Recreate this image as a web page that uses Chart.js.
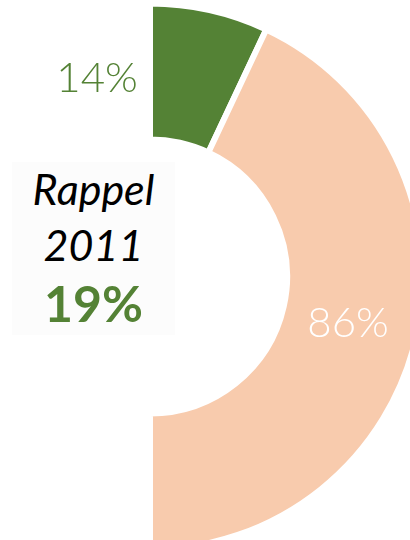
<!DOCTYPE html>
<html>
<head>
<meta charset="utf-8">
<script src="https://cdn.jsdelivr.net/npm/chart.js@4.4.1/dist/chart.umd.min.js"></script>
<style>
  html, body { margin: 0; padding: 0; background: #fff; }
  #wrap { position: relative; width: 410px; height: 540px; overflow: hidden; }
  #chart { position: absolute; left: 0; top: 0; }
  #note {
    position: absolute; left: 12px; top: 162px; width: 163px; height: 173px;
    background: #fcfcfc; text-align: center; font-family: Lato, "Open Sans", sans-serif;
  }
  #note .l1, #note .l2 { font-style: italic; font-size: 43px; color: #000; line-height: 1; }
  #note .l1 { margin-top: 5px; }
  #note .l2 { margin-top: 13px; }
  #note .l3 { font-weight: bold; font-size: 50px; color: #548235; margin-top: 12px; line-height: 1; }
</style>
</head>
<body>
<div id="wrap">
  <canvas id="chart" width="410" height="540"></canvas>
  <div id="note">
    <div class="l1">Rappel</div>
    <div class="l2">2011</div>
    <div class="l3">19%</div>
  </div>
</div>
<script>
// values
const categories = ['Oui', 'Non'];
const shares = [14, 86];
const colours = ['#548235', '#F8CBAD'];
const labelColours = ['#548235', '#ffffff'];

// draw the percent labels from the arcs themselves
const pctLabels = {
  id: 'pctLabels',
  afterDatasetsDraw(chart) {
    const ctx = chart.ctx;
    const arcs = chart.getDatasetMeta(0).data;
    ctx.save();
    ctx.font = '300 42px Lato, "DejaVu Sans", sans-serif';
    ctx.textAlign = 'center';
    ctx.textBaseline = 'middle';
    arcs.forEach((arc, i) => {
      const pos = arc.tooltipPosition();
      let x = pos.x, y = pos.y;
      if (i === 0) { x = arc.x - 53; y = y + 2; } // first label sits left of the ring
      else { x = x - 2; y = y + 2; }
      ctx.fillStyle = labelColours[i];
      ctx.fillText(shares[i] + '%', x, y);
    });
    ctx.restore();
  }
};

const ctx = document.getElementById('chart').getContext('2d');
const chart = new Chart(ctx, {
  type: 'doughnut',
  data: {
    labels: categories,
    datasets: [{
      data: shares,
      backgroundColor: colours,
      borderColor: '#ffffff',
      borderWidth: 6,
      hoverOffset: 0
    }]
  },
  options: {
    responsive: false,
    animation: false,
    rotation: 0,
    circumference: 180,
    radius: 273,
    cutout: '50.2%',
    layout: { padding: { left: 163, right: 0, top: 13, bottom: 0 } },
    plugins: {
      legend: { display: false },
      tooltip: { enabled: false }
    }
  },
  plugins: [pctLabels]
});
</script>
</body>
</html>
